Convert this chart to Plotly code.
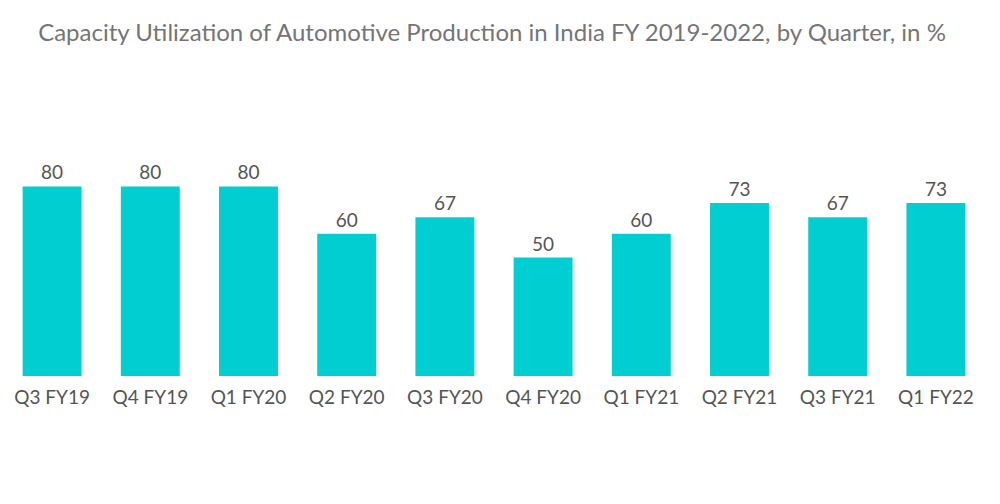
import plotly.graph_objects as go

categories = ["Q3 FY19", "Q4 FY19", "Q1 FY20", "Q2 FY20", "Q3 FY20",
              "Q4 FY20", "Q1 FY21", "Q2 FY21", "Q3 FY21", "Q1 FY22"]
values = [80, 80, 80, 60, 67, 50, 60, 73, 67, 73]

fig = go.Figure(go.Bar(
    x=categories, y=values,
    marker=dict(color="#00CED1", line=dict(width=0)),
    text=[str(v) for v in values], textposition="outside",
    textfont=dict(size=19, color="#555555", family="Lato"),
    cliponaxis=False,
))

fig.update_layout(
    width=1000, height=504,
    margin=dict(l=3, r=15, t=139, b=128),
    paper_bgcolor="white", plot_bgcolor="white",
    bargap=0.4,
    showlegend=False,
    title=dict(text="Capacity Utilization of Automotive Production in India FY 2019-2022, by Quarter, in %",
               x=0.492, xanchor="center", y=0.935, yanchor="middle",
               font=dict(family="Lato", size=24, color="#757575")),
    xaxis=dict(showgrid=False, showline=False, ticks="", zeroline=False,
               automargin=False, ticklabelstandoff=8,
               tickfont=dict(family="Lato", size=19, color="#555555")),
    yaxis=dict(visible=False, range=[0, 100], automargin=False),
)

fig.write_html("out.html", config={"displayModeBar": False},
               post_script="document.body.style.margin='0';")
